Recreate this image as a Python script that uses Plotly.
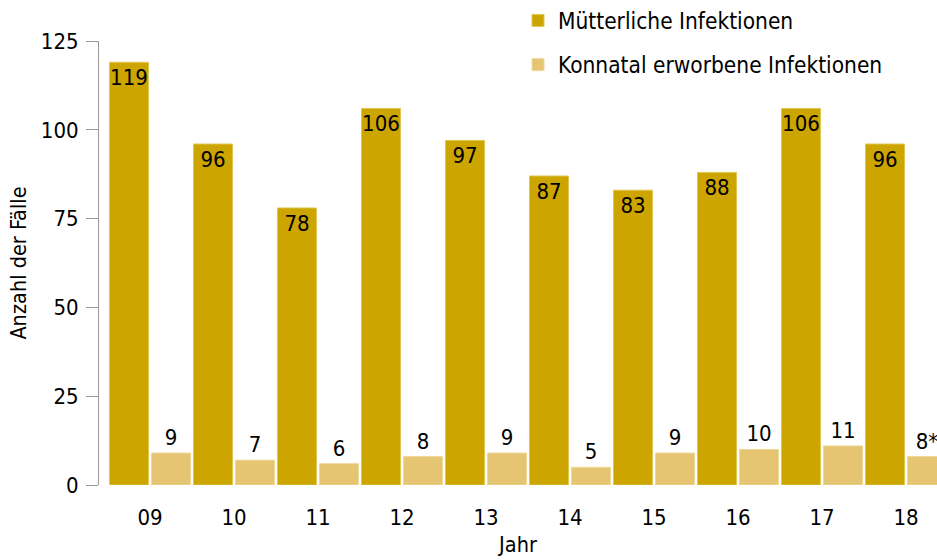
import plotly.graph_objects as go

years = ["09", "10", "11", "12", "13", "14", "15", "16", "17", "18"]
muetterlich = [119, 96, 78, 106, 97, 87, 83, 88, 106, 96]
konnatal = [9, 7, 6, 8, 9, 5, 9, 10, 11, 8]
konnatal_notes = ["", "", "", "", "", "", "", "", "", "*"]

FONT = "DejaVu Sans Condensed, DejaVu Sans, sans-serif"
DARK = "#CCA500"
LIGHT = "#E5C472"

fig = go.Figure()
fig.add_trace(go.Bar(
    name="Mütterliche Infektionen", x=years, y=muetterlich,
    text=[str(v) for v in muetterlich], textposition="inside",
    insidetextanchor="end", textangle=0, constraintext="none",
    textfont=dict(family=FONT, size=22, color="black"),
    marker=dict(color=DARK, line=dict(color="#E0C650", width=1)),
    legendgroup="a",
))
fig.add_trace(go.Bar(
    name="Konnatal erworbene Infektionen", x=years, y=konnatal,
    text=[f"{v}{n}" for v, n in zip(konnatal, konnatal_notes)],
    textposition="outside", textangle=0, cliponaxis=False, constraintext="none",
    textfont=dict(family=FONT, size=22, color="black"),
    marker=dict(color=LIGHT, line=dict(color="#F0D898", width=1)),
    legendgroup="b",
))

fig.update_layout(
    width=937, height=560,
    margin=dict(l=99, r=0, t=41, b=75, autoexpand=False),
    paper_bgcolor="white", plot_bgcolor="white",
    font=dict(family=FONT, size=22, color="black"),
    barmode="group", bargap=0.0, bargroupgap=0.071,
    showlegend=True,
    legend=dict(
        x=0.500, y=1.094,
        xanchor="left", yanchor="top", orientation="v",
        font=dict(family=FONT, size=22.5, color="black"),
        traceorder="grouped", tracegroupgap=12,
        itemwidth=30, bgcolor="rgba(0,0,0,0)",
    ),
    xaxis=dict(
        type="category", range=[-0.607, 9.369],
        showline=False, showgrid=False, zeroline=False,
        ticks="", ticklabelstandoff=17,
        title=dict(text="Jahr", font=dict(family=FONT, size=21.5), standoff=7),
    ),
    yaxis=dict(
        range=[0, 125], tickvals=[0, 25, 50, 75, 100, 125],
        showline=True, linecolor="#999999", linewidth=1,
        ticks="outside", ticklen=12, tickcolor="#999999",
        ticklabelstandoff=3,
        showgrid=False, zeroline=False,
        title=dict(text="Anzahl der Fälle", font=dict(family=FONT, size=21.5), standoff=8),
    ),
)

fig.write_html("out.html", post_script="document.body.style.margin='0';",
               config={"displayModeBar": False})
